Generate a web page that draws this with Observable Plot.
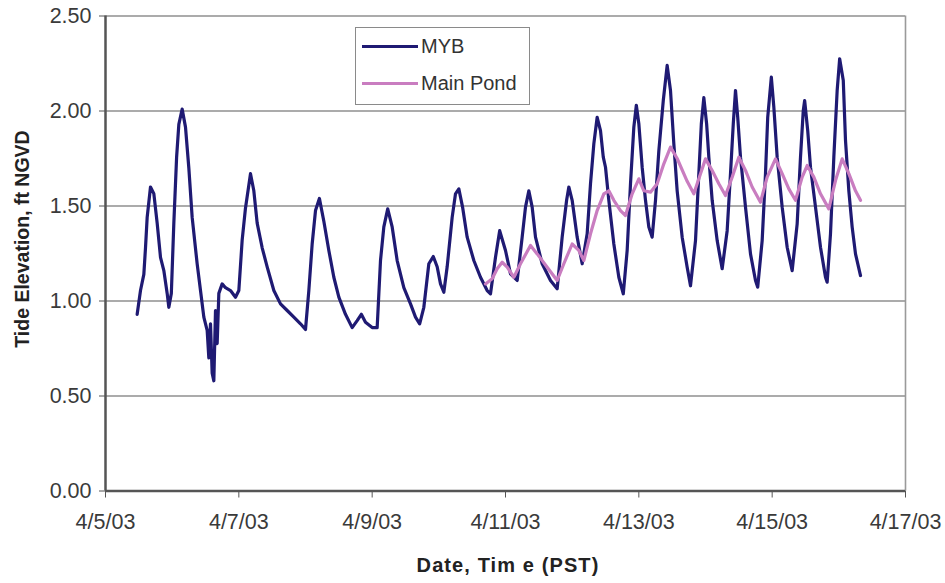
<!DOCTYPE html>
<html>
<head>
<meta charset="utf-8">
<script src="https://cdn.jsdelivr.net/npm/d3@7"></script>
<script src="https://cdn.jsdelivr.net/npm/@observablehq/plot@0.6"></script>
<style>
  html, body { margin: 0; padding: 0; background: #fff; }
  #wrap { position: relative; width: 945px; height: 583px; font-family: "Liberation Sans", Arial, sans-serif; }
  #legend { position: absolute; left: 355px; top: 27px; width: 175px; height: 78px; border: 1.5px solid #8a8a8a; background: #fff; box-sizing: border-box; }
  .lg { position: absolute; left: 6px; display: flex; align-items: center; font-size: 20px; color: #333; }
  .lg span.sw { display: inline-block; width: 56px; height: 3px; margin-right: 3px; }
</style>
</head>
<body>
<div id="wrap"></div>
<script>
// Time is in hours after 4/5/03 00:00 (PST)
const mybHours = [11.4,12.6,13.8,14.4,15.0,16.2,17.4,18.6,19.8,21.0,22.2,22.8,23.7,24.6,25.6,26.4,27.6,28.8,30.0,31.2,33.0,34.2,35.4,36.6,37.2,37.8,38.4,39.0,39.6,40.2,40.8,42.0,43.2,45.0,46.8,48.0,49.2,50.4,52.2,53.4,54.6,56.4,58.2,60.6,63.0,65.4,67.8,70.2,72.0,73.2,74.4,75.6,77.0,78.6,80.4,82.2,84.0,86.4,88.8,90.6,92.1,93.6,96.0,97.8,99.0,100.2,101.6,103.2,105.0,107.4,109.8,111.6,113.1,114.6,116.4,118.0,119.4,120.6,121.8,123.0,124.8,126.0,127.2,128.6,130.2,132.6,135.0,137.4,138.6,140.4,141.9,144.0,145.8,148.2,150.0,151.2,152.4,153.6,154.8,157.2,160.2,162.6,164.4,166.0,166.8,168.0,169.8,171.6,173.4,174.6,175.8,177.0,178.2,179.2,180.0,181.2,183.0,184.8,186.4,187.8,189.0,190.2,191.1,192.0,193.2,194.4,195.6,196.8,198.0,199.2,200.8,202.2,203.4,204.6,205.8,207.6,209.4,210.6,212.4,213.6,214.5,215.4,216.4,217.2,218.4,220.2,222.0,223.8,225.0,226.0,226.8,227.6,228.6,230.4,232.2,234.0,234.8,236.4,237.6,238.4,239.7,240.6,241.8,243.6,245.4,247.2,249.0,250.2,251.2,251.7,252.8,253.8,255.6,257.4,259.2,259.8,261.0,262.2,263.4,264.3,265.6,266.4,267.6,268.8,270.0,271.8];
const mybFt = [0.93,1.055,1.14,1.28,1.44,1.60,1.565,1.41,1.23,1.16,1.04,0.967,1.04,1.41,1.757,1.93,2.01,1.915,1.70,1.44,1.195,1.055,0.915,0.845,0.70,0.88,0.62,0.58,0.95,0.776,1.04,1.09,1.07,1.055,1.02,1.055,1.32,1.49,1.67,1.58,1.41,1.28,1.18,1.055,0.985,0.95,0.915,0.88,0.85,1.055,1.30,1.476,1.54,1.42,1.266,1.125,1.02,0.93,0.86,0.897,0.93,0.888,0.86,0.86,1.213,1.39,1.485,1.39,1.213,1.07,0.985,0.915,0.88,0.967,1.196,1.234,1.18,1.09,1.046,1.18,1.44,1.564,1.59,1.49,1.336,1.213,1.125,1.055,1.038,1.23,1.37,1.266,1.143,1.108,1.336,1.494,1.58,1.494,1.336,1.196,1.108,1.064,1.336,1.53,1.60,1.53,1.336,1.196,1.354,1.617,1.827,1.967,1.897,1.757,1.704,1.53,1.30,1.125,1.038,1.266,1.617,1.915,2.03,1.933,1.704,1.53,1.389,1.336,1.53,1.79,2.055,2.24,2.108,1.827,1.58,1.336,1.178,1.08,1.318,1.67,1.933,2.07,1.933,1.757,1.53,1.318,1.17,1.37,1.67,1.933,2.108,1.967,1.757,1.494,1.248,1.108,1.073,1.318,1.67,1.967,2.178,2.02,1.757,1.494,1.283,1.16,1.406,1.757,2.003,2.055,1.897,1.704,1.494,1.283,1.125,1.099,1.354,1.757,2.108,2.275,2.16,1.845,1.58,1.389,1.248,1.134];

const pondHours = [136.8,139.2,141.0,142.8,144.6,147.0,149.4,153.0,155.4,159.0,162.6,165.0,168.0,170.4,172.2,174.6,177.0,179.4,181.2,183.0,185.4,187.2,189.6,192.0,193.8,196.2,198.6,201.0,203.4,205.8,209.4,211.8,214.2,216.0,218.4,220.8,223.2,225.6,228.0,230.4,232.8,235.8,238.2,241.2,243.6,246.0,248.4,250.8,252.6,255.0,257.4,260.4,262.8,265.2,267.6,270.0,271.8];
const pondFt = [1.09,1.117,1.17,1.204,1.178,1.125,1.196,1.292,1.248,1.178,1.108,1.196,1.30,1.266,1.213,1.354,1.476,1.564,1.58,1.53,1.476,1.45,1.564,1.643,1.58,1.573,1.617,1.722,1.81,1.75,1.63,1.564,1.67,1.748,1.687,1.617,1.555,1.652,1.757,1.687,1.6,1.52,1.652,1.748,1.67,1.59,1.53,1.652,1.713,1.652,1.564,1.485,1.634,1.748,1.67,1.58,1.53];

const xTicks = [0, 48, 96, 144, 192, 240, 288];
const xTickLabels = ["4/5/03", "4/7/03", "4/9/03", "4/11/03", "4/13/03", "4/15/03", "4/17/03"];
const yTicks = [0, 0.5, 1.0, 1.5, 2.0, 2.5];
const seriesNames = ["MYB", "Main Pond"];
const seriesColors = ["#1f1a73", "#c97dc0"];

const myb = mybHours.map((h, i) => ({h, v: mybFt[i]}));
const pond = pondHours.map((h, i) => ({h, v: pondFt[i]}));

const font = "'Liberation Sans', Arial, sans-serif";

const svg = Plot.plot({
  width: 945,
  height: 583,
  marginLeft: 105,
  marginRight: 40,
  marginTop: 15.5,
  marginBottom: 92.5,
  style: {fontFamily: font, color: "#3a3a3a", background: "#fff", overflow: "visible"},
  x: {domain: [0, 288]},
  y: {domain: [0, 2.5]},
  marks: [
    Plot.ruleY(yTicks.filter(d => d > 0), {stroke: "#8f8f8f", strokeWidth: 1.6}),
    Plot.ruleX([288], {stroke: "#9a9a9a", strokeWidth: 1.6}),
    Plot.line(myb, {x: "h", y: "v", stroke: seriesColors[0], strokeWidth: 3.2, curve: "linear", strokeLinejoin: "round"}),
    Plot.line(pond, {x: "h", y: "v", stroke: seriesColors[1], strokeWidth: 3.2, curve: "linear", strokeLinejoin: "round"}),
    Plot.ruleY([0], {stroke: "#555", strokeWidth: 2.5}),
    Plot.ruleX([0], {stroke: "#555", strokeWidth: 2.5}),
    Plot.axisY(yTicks, {tickSize: 6, tickPadding: 8, tickFormat: d => d.toFixed(2), fontSize: 21.5, label: null, stroke: "#555"}),
    Plot.axisX(xTicks, {tickSize: 7, tickPadding: 16, tickFormat: d => xTickLabels[xTicks.indexOf(d)], fontSize: 21.5, label: null, stroke: "#555"})
  ]
});

const s = d3.select(svg);
s.append("text")
  .attr("transform", "translate(24,239) rotate(-90)")
  .attr("text-anchor", "middle")
  .attr("dominant-baseline", "middle")
  .attr("font-size", 19.5)
  .attr("font-weight", "bold")
  .attr("fill", "#222")
  .text("Tide Elevation, ft NGVD");
s.append("text")
  .attr("x", 508)
  .attr("y", 567)
  .attr("text-anchor", "middle")
  .attr("dominant-baseline", "middle")
  .attr("font-size", 20)
  .attr("letter-spacing", "1.1px")
  .attr("font-weight", "bold")
  .attr("fill", "#222")
  .text("Date, Tim e (PST)");

const wrap = document.getElementById("wrap");
wrap.appendChild(svg);

const legend = document.createElement("div");
legend.id = "legend";
seriesNames.forEach((name, i) => {
  const row = document.createElement("div");
  row.className = "lg";
  row.style.top = (i === 0 ? 7 : 44) + "px";
  const sw = document.createElement("span");
  sw.className = "sw";
  sw.style.background = seriesColors[i];
  const t = document.createElement("span");
  t.textContent = name;
  row.appendChild(sw);
  row.appendChild(t);
  legend.appendChild(row);
});
wrap.appendChild(legend);
</script>
</body>
</html>
